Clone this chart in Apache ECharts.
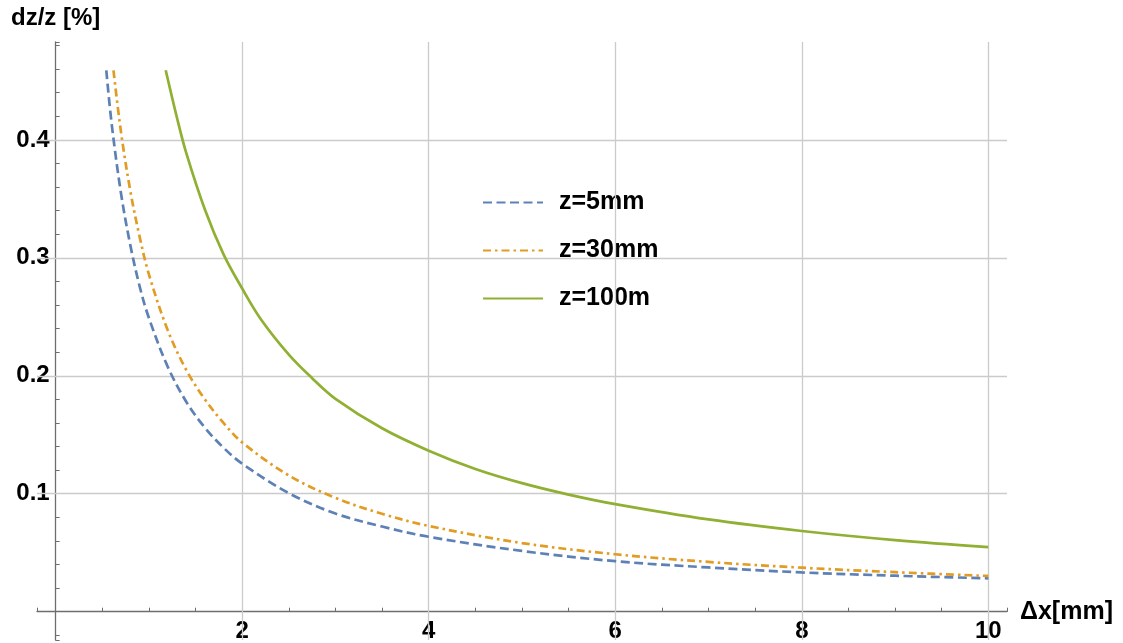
<!DOCTYPE html>
<html><head><meta charset="utf-8">
<script src="https://cdn.jsdelivr.net/npm/echarts@6/dist/echarts.min.js"></script>
<style>html,body{margin:0;padding:0;background:#fff}#c{width:1123px;height:643px}</style>
</head><body><div id="c"></div>
<script>
// ---- data ----
const seriesNames = ['z=5mm', 'z=30mm', 'z=100m'];

const x5mm = [0.543, 0.6, 0.7, 0.8, 0.9, 1.0, 1.2, 1.4, 1.6, 1.8, 2.0, 2.5, 3.0, 3.5, 4.0, 5.0, 6.0, 7.0, 8.0, 9.0, 10.0];
const y5mm = [0.459, 0.414, 0.355, 0.311, 0.276, 0.249, 0.208, 0.178, 0.156, 0.139, 0.1255, 0.1005, 0.0832, 0.0722, 0.0635, 0.0515, 0.0428, 0.0375, 0.0333, 0.0305, 0.0283];

const x30mm = [0.62, 0.7, 0.8, 0.9, 1.0, 1.2, 1.4, 1.6, 1.8, 2.0, 2.5, 3.0, 3.5, 4.0, 5.0, 6.0, 7.0, 8.0, 9.0, 10.0];
const y30mm = [0.459, 0.407, 0.357, 0.318, 0.286, 0.239, 0.205, 0.180, 0.160, 0.1435, 0.1155, 0.0965, 0.083, 0.0727, 0.0582, 0.0487, 0.0422, 0.0373, 0.0335, 0.0303];

const x100m = [1.18, 1.3, 1.4, 1.6, 1.8, 2.0, 2.2, 2.5, 2.75, 3.0, 3.5, 4.0, 4.5, 5.0, 5.5, 6.0, 7.0, 8.0, 9.0, 10.0];
const y100m = [0.459, 0.419, 0.389, 0.341, 0.303, 0.274, 0.248, 0.218, 0.198, 0.1805, 0.1555, 0.1365, 0.121, 0.109, 0.0993, 0.0912, 0.0782, 0.0684, 0.0607, 0.0548];

const xTickLabels = ['2', '4', '6', '8', '10'];
const yTickLabels = ['0.1', '0.2', '0.3', '0.4'];
const xGridValues = [2, 4, 6, 8, 10];
const yGridValues = [0.1, 0.2, 0.3, 0.4];

// ---- styling ----
const FONT = '"Liberation Sans", Arial, Helvetica, sans-serif';
const colors = ['#5E81B5', '#E19C24', '#8FB032'];
const dashes = [[9, 4.5], [8, 4, 2.5, 4], 'solid'];
const axisColor = '#6e6e6e';
const gridColor = '#cbcbcb';
const X_MIN = -0.2, X_MAX = 10.2, Y_MIN = -0.024, Y_MAX = 0.483;

function pairs(xs, ys) { return xs.map((x, i) => [x, ys[i]]); }
const allData = [pairs(x5mm, y5mm), pairs(x30mm, y30mm), pairs(x100m, y100m)];

const chart = echarts.init(document.getElementById('c'), null, {renderer: 'canvas'});

const curveSeries = seriesNames.map((name, i) => ({
  name: name,
  type: 'line',
  data: allData[i],
  showSymbol: false,
  symbol: 'none',
  smooth: 0.35,
  z: 5,
  lineStyle: {color: colors[i], width: 2.7, type: dashes[i], cap: 'butt'},
  itemStyle: {color: colors[i]},
  emphasis: {disabled: true}
}));

const gridSeries = {
  name: 'grid',
  type: 'line',
  data: [],
  z: 1,
  silent: true,
  markLine: {
    silent: true,
    symbol: ['none', 'none'],
    label: {show: false},
    animation: false,
    lineStyle: {color: gridColor, width: 1.3, type: 'solid'},
    emphasis: {disabled: true},
    data: xGridValues.map(v => ({xAxis: v})).concat(yGridValues.map(v => ({yAxis: v})))
  }
};

chart.setOption({
  animation: false,
  backgroundColor: '#ffffff',
  grid: {left: 37, right: 116, top: 42, bottom: 3, containLabel: false, outerBoundsMode: 'none'},
  legend: {
    data: seriesNames,
    orient: 'vertical',
    left: 482,
    top: 190,
    padding: 0,
    itemWidth: 60,
    itemHeight: 14,
    itemGap: 23,
    selectedMode: false,
    itemStyle: {opacity: 0},
    textStyle: {fontFamily: FONT, fontWeight: 'bold', fontSize: 25, color: '#000', padding: [0, 0, 0, 11]},
  },
  xAxis: {
    type: 'value',
    min: X_MIN,
    max: X_MAX,
    splitNumber: 21,
    axisLine: {show: true, onZero: false, lineStyle: {color: axisColor, width: 1.3}},
    axisTick: {show: true, inside: true, length: 4, lineStyle: {color: axisColor, width: 1}},
    splitLine: {show: false},
    axisLabel: {
      margin: 8,
      fontFamily: FONT, fontWeight: 'bold', fontSize: 24, color: '#000',
      formatter: function (v) {
        const idx = xGridValues.findIndex(g => Math.abs(g - v) < 1e-6);
        return idx >= 0 ? xTickLabels[idx] : '';
      }
    },
    name: 'Δx[mm]',
    nameLocation: 'end',
    nameGap: 13,
    nameTextStyle: {fontFamily: FONT, fontWeight: 'bold', fontSize: 25, color: '#000'}
  },
  yAxis: {
    type: 'value',
    min: Y_MIN,
    max: Y_MAX,
    splitNumber: 25,
    axisLine: {show: true, onZero: false, lineStyle: {color: axisColor, width: 1.3}},
    axisTick: {show: true, inside: true, length: 4, lineStyle: {color: axisColor, width: 1}},
    splitLine: {show: false},
    axisLabel: {
      margin: 6,
      fontFamily: FONT, fontWeight: 'bold', fontSize: 24, color: '#000',
      formatter: function (v) {
        const idx = yGridValues.findIndex(g => Math.abs(g - v) < 1e-6);
        return idx >= 0 ? yTickLabels[idx] : '';
      }
    },
    name: 'dz/z [%]',
    nameLocation: 'end',
    nameGap: 12,
    nameTextStyle: {fontFamily: FONT, fontWeight: 'bold', fontSize: 24, color: '#000', align: 'center'}
  },
  series: [gridSeries].concat(curveSeries)
});

// Move both axes (line, ticks, labels, names) to the zero crossing, using the chart's own scales
const zeroX = chart.convertToPixel({xAxisIndex: 0}, 0);
const leftX = chart.convertToPixel({xAxisIndex: 0}, X_MIN);
const zeroY = chart.convertToPixel({yAxisIndex: 0}, 0);
const bottomY = chart.convertToPixel({yAxisIndex: 0}, Y_MIN);
chart.setOption({
  xAxis: {offset: -(bottomY - zeroY)},
  yAxis: {offset: -(zeroX - leftX)}
});
</script>
</body></html>
